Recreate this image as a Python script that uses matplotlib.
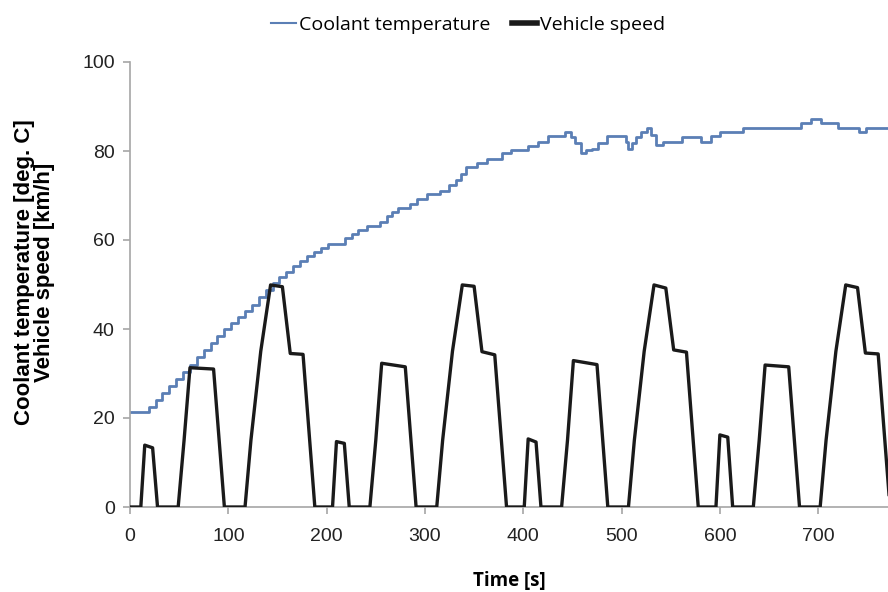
import numpy as np
import matplotlib
matplotlib.use("Agg")
import matplotlib.pyplot as plt

# coolant temperature (time [s], deg C), drawn as steps
temp_t = [0, 19, 26, 33, 40, 47, 54, 61, 68, 75, 82, 89, 96, 103, 110, 117,
          124, 131, 138, 145, 152, 159, 166, 173, 180, 187, 194, 201, 219, 226,
          232, 241, 254, 261, 267, 273, 285, 292, 302, 315, 324, 332, 337, 342,
          353, 363, 378, 388, 405, 415, 425, 442, 449, 453, 459, 464, 470, 476,
          485, 504, 507, 511, 515, 520, 526, 530, 535, 542, 561, 581, 591, 600,
          624, 683, 693, 703, 720, 741, 749, 771]
temp_v = [21.4, 22.5, 24.0, 25.6, 27.2, 28.8, 30.4, 32.0, 33.6, 35.2, 36.8,
          38.4, 40.0, 41.3, 42.7, 44.0, 45.4, 47.1, 48.8, 50.4, 51.6, 52.9,
          54.1, 55.3, 56.3, 57.2, 58.2, 59.2, 60.4, 61.3, 62.2, 63.1, 64.1,
          65.4, 66.3, 67.1, 68.2, 69.3, 70.3, 71.1, 72.4, 73.5, 74.9, 76.3,
          77.2, 78.1, 79.5, 80.2, 81.1, 82.1, 83.4, 84.2, 83.2, 81.7, 79.6,
          80.2, 80.4, 81.9, 83.3, 82.0, 80.4, 81.7, 83.2, 84.3, 85.1, 83.5,
          81.3, 82.0, 83.2, 82.0, 83.4, 84.3, 85.1, 86.4, 87.3, 86.4, 85.1,
          84.3, 85.1, 85.1]

# vehicle speed: four urban (ECE-15) cycles of 195 s
cycle_len = 195
cycle_t = [0, 11, 15, 23, 28, 49, 55, 61, 85, 96, 117, 123, 133, 143, 155,
           163, 176, 188, 195]
speed_c1 = [0, 0, 13.9, 13.3, 0, 0, 15, 31.3, 31.0, 0, 0, 15, 35, 49.9, 49.5,
            34.5, 34.3, 0, 0]
speed_c2 = [0, 0, 14.7, 14.3, 0, 0, 15, 32.3, 31.5, 0, 0, 15, 35, 49.9, 49.6,
            34.9, 34.2, 0, 0]
speed_c3 = [0, 0, 15.3, 14.6, 0, 0, 15, 32.9, 32.0, 0, 0, 15, 35, 49.9, 49.2,
            35.3, 34.8, 0, 0]
speed_c4 = [0, 0, 16.2, 15.7, 0, 0, 15, 31.9, 31.5, 0, 0, 15, 35, 49.9, 49.3,
            34.6, 34.4, 0, 0]

speed_t, speed_v = [], []
for k, cyc in enumerate([speed_c1, speed_c2, speed_c3, speed_c4]):
    speed_t += [t + k * cycle_len for t in cycle_t]
    speed_v += cyc

fig = plt.figure(figsize=(8.88, 5.92), dpi=100)
ax = fig.add_axes([130 / 888, 85 / 592, 758 / 888, 445 / 592])

ax.plot(temp_t, temp_v, drawstyle="steps-post", color="#5b7fb5", lw=2,
        label="Coolant temperature", zorder=2)
ax.plot(speed_t, speed_v, color="#1a1a1a", lw=2.4,
        label="Vehicle speed", zorder=3)

ax.set_xlim(0, 771)
ax.set_ylim(0, 100)
ax.set_xticks(np.arange(0, 800, 100))
ax.set_yticks(np.arange(0, 120, 20))

for s in ["top", "right"]:
    ax.spines[s].set_visible(False)
for s in ["left", "bottom"]:
    ax.spines[s].set_color("#a6a6a6")
    ax.spines[s].set_linewidth(1.2)
ax.tick_params(direction="out", length=5, width=1.2, color="#a6a6a6",
               labelsize=14, labelcolor="#222222", pad=6)
for lab in ax.get_xticklabels() + ax.get_yticklabels():
    lab.set_family("Liberation Sans")
ax.tick_params(axis="x", pad=10)

ax.set_ylabel("Coolant temperature [deg. C]\nVehicle speed [km/h]",
              family="Liberation Sans", fontsize=16, fontweight="bold",
              linespacing=0.92)
ax.yaxis.set_label_coords(-0.099, 0.527)
ax.set_xlabel("Time [s]", family="Open Sans", fontsize=13.5,
              fontweight="bold", labelpad=19)

leg = fig.legend(loc="center", bbox_to_anchor=(0.527, 0.958), ncol=2,
                 frameon=False, handlelength=1.3, handletextpad=0.15,
                 columnspacing=1.1, prop={"family": "Open Sans", "size": 14})
leg.get_lines()[0].set_linewidth(1.5)
leg.get_lines()[1].set_linewidth(4)

fig.savefig("out.png", dpi=100)
